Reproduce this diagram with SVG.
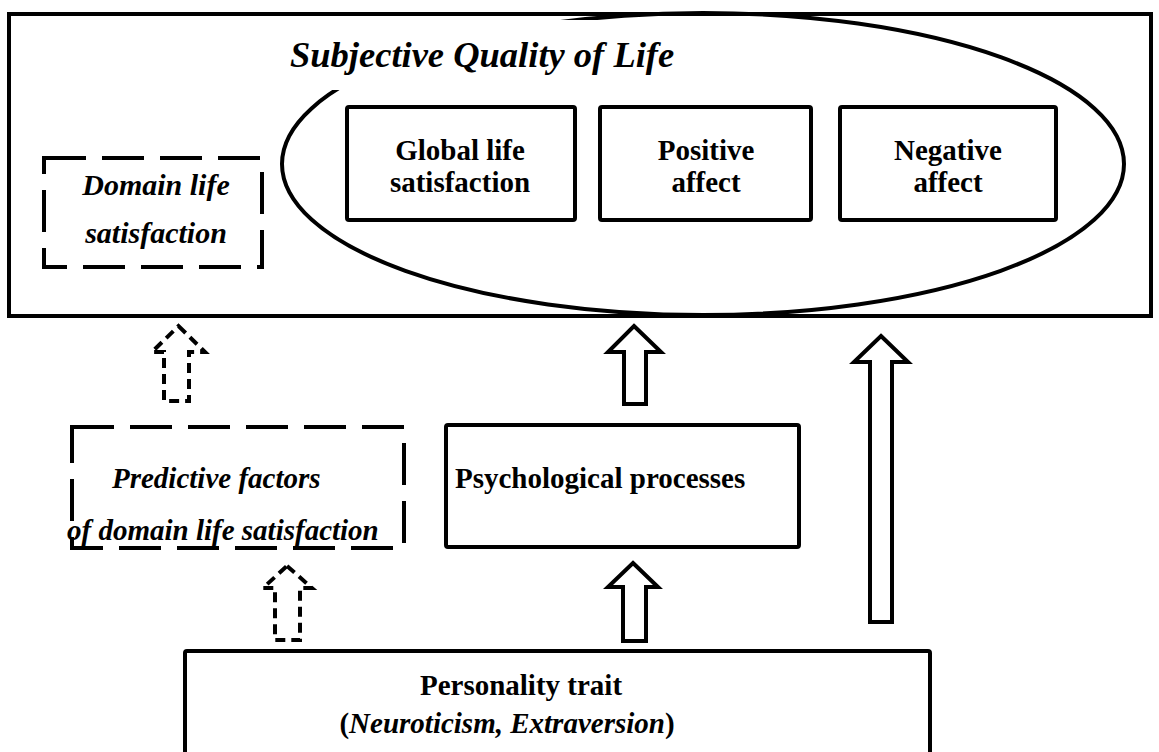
<svg xmlns="http://www.w3.org/2000/svg" width="1159" height="752" viewBox="0 0 1159 752">
<style>
.box{fill:#fff;stroke:#000;stroke-width:4;stroke-linejoin:round}
.dbox{fill:none;stroke:#000;stroke-width:4;stroke-dasharray:42 16}
.arr{fill:#fff;stroke:#000;stroke-width:4;stroke-linejoin:miter}
.darr{fill:#fff;stroke:#000;stroke-width:4;stroke-dasharray:10 6}
text{font-family:"Liberation Serif","Times New Roman",serif;font-weight:bold;font-size:29px;fill:#000}
.it{font-style:italic}
.c{text-anchor:middle}
</style>
<rect width="1159" height="752" fill="#fff"/>
<g id="subjective-quality-of-life">
<rect x="9" y="14" width="1142" height="302" fill="#fff" stroke="#000" stroke-width="4"/>
<ellipse cx="703" cy="164" rx="421" ry="151" fill="none" stroke="#000" stroke-width="4"/>
<rect x="285" y="20" width="420" height="70" fill="#fff"/>
<text x="290" y="67" class="it" style="font-size:36.5px">Subjective Quality of Life</text>
</g>
<g id="domain-life-satisfaction">
<rect x="44" y="158" width="218" height="109" class="dbox"/>
<text x="156" y="195" class="it c" style="font-size:30px">Domain life</text>
<text x="156" y="243" class="it c" style="font-size:30px">satisfaction</text>
</g>
<g id="global-life-satisfaction">
<rect x="347" y="107" width="228" height="113" rx="2" class="box"/>
<text x="460" y="160" class="c">Global life</text>
<text x="460" y="192" class="c">satisfaction</text>
</g>
<g id="positive-affect">
<rect x="600" y="107" width="211" height="113" rx="2" class="box"/>
<text x="706" y="160" class="c">Positive</text>
<text x="706" y="192" class="c">affect</text>
</g>
<g id="negative-affect">
<rect x="840" y="107" width="216" height="113" rx="2" class="box"/>
<text x="948" y="160" class="c">Negative</text>
<text x="948" y="192" class="c">affect</text>
</g>
<g id="predictive-factors">
<rect x="72" y="427" width="332" height="121" class="dbox"/>
<text x="112" y="488" class="it">Predictive factors</text>
<text x="67" y="540" class="it">of domain life satisfaction</text>
</g>
<g id="psychological-processes">
<rect x="446" y="425" width="353" height="122" rx="2" class="box"/>
<text x="455" y="488">Psychological processes</text>
</g>
<g id="personality-trait">
<rect x="185" y="651" width="745" height="120" rx="2" class="box"/>
<text x="521" y="695" class="c">Personality trait</text>
<text x="507" y="733" class="c">(<tspan class="it">Neuroticism, Extraversion</tspan>)</text>
</g>
<g id="connectors">
<polygon class="darr" points="178.5,326 205,352 189,352 189,401 164,401 164,352 152,352"/>
<polygon class="darr" points="287,566 312,588 300,588 300,640 275,640 275,588 263,588"/>
<polygon class="arr" points="634,326 661,352 646,352 646,404 624,404 624,352 608,352"/>
<polygon class="arr" points="633,563 658,587 646,587 646,641 623,641 623,587 608,587"/>
<polygon class="arr" points="881,336 908,362 892,362 892,622 870,622 870,362 854,362"/>
</g>
</svg>
